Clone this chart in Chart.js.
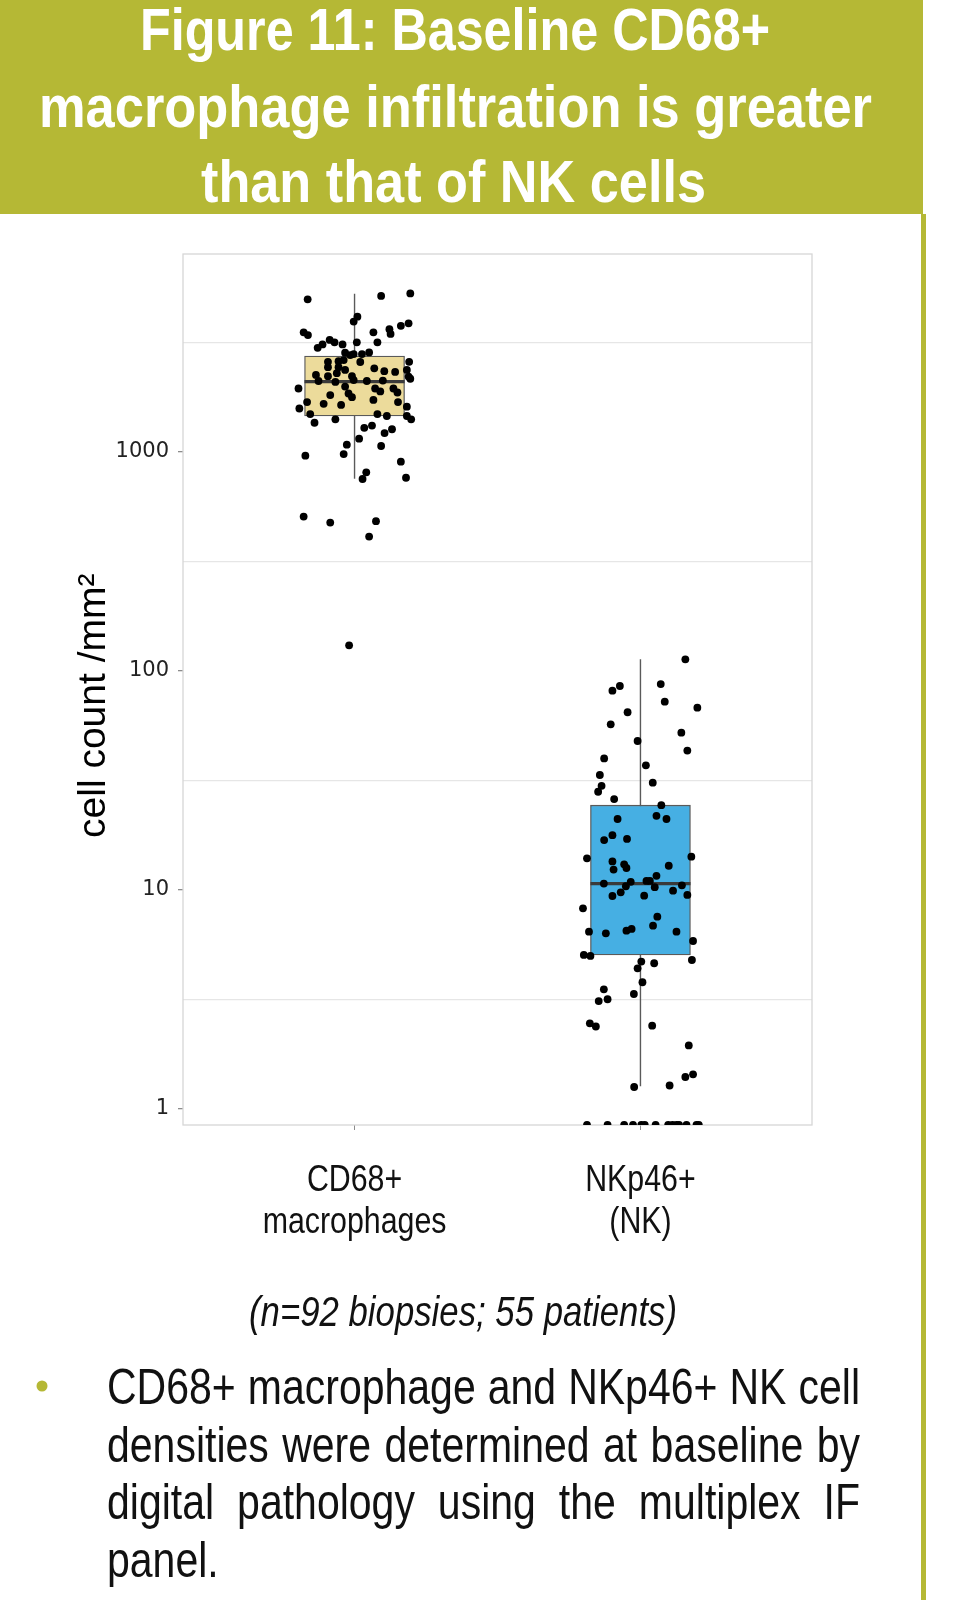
<!DOCTYPE html>
<html><head><meta charset="utf-8">
<script src="https://cdn.jsdelivr.net/npm/chart.js@4/dist/chart.umd.min.js"></script>
<style>
html,body{margin:0;padding:0;background:#fff;}
body{width:954px;height:1600px;position:relative;overflow:hidden;}
#banner{position:absolute;left:0;top:0;width:923px;height:214px;background:#B5B835;}
#rbar{position:absolute;left:921px;top:214px;width:5px;height:1386px;background:#B5B835;}
#c{position:absolute;left:0;top:214px;}
#txt{position:absolute;left:0;top:0;}
</style></head><body>
<div id="banner"></div>
<canvas id="c" width="954" height="1046"></canvas>
<div id="rbar"></div>
<svg id="txt" width="954" height="1600" xmlns="http://www.w3.org/2000/svg">
 <g font-family='"Liberation Sans", Arial, sans-serif'>
  <g fill="#ffffff" font-weight="bold" font-size="60" text-anchor="middle">
   <text x="455" y="50" textLength="630" lengthAdjust="spacingAndGlyphs">Figure 11: Baseline CD68+</text>
   <text x="455.5" y="127" textLength="833" lengthAdjust="spacingAndGlyphs">macrophage infiltration is greater</text>
   <text x="453.5" y="202" textLength="505" lengthAdjust="spacingAndGlyphs">than that of NK cells</text>
  </g>
  <text x="463" y="1326" font-size="42" font-style="italic" fill="#111" text-anchor="middle" textLength="428" lengthAdjust="spacingAndGlyphs">(n=92 biopsies; 55 patients)</text>
  <circle cx="42" cy="1386" r="5.5" fill="#B5B835"/>
  <g font-size="50" fill="#111">
   <text class="just" transform="translate(107 1404) scale(0.82 1)" data-w="753">CD68+ macrophage and NKp46+ NK cell</text>
   <text class="just" transform="translate(107 1461.5) scale(0.82 1)" data-w="753">densities were determined at baseline by</text>
   <text class="just" transform="translate(107 1519) scale(0.82 1)" data-w="753">digital pathology using the multiplex IF</text>
   <text transform="translate(107 1576.5) scale(0.82 1)">panel.</text>
  </g>
 </g>
</svg>
<script>
// ---- data ----
const categories = [['CD68+', 'macrophages'], ['NKp46+', '(NK)']];
const boxColors = ['#ECDB9B', '#46AFE3'];

const q1Values = [1460, 5.05];
const medianValues = [2095, 10.7];
const q3Values = [2740, 24.4];
const whiskerLow = [755, 1.27];
const whiskerHigh = [5280, 113];

const cd68Values = [4980,5160,5300,4150,3940,3520,3420,3520,3640,3460,3770,3870,3250,3170,3100,2990,3100,3170,3170,2840,
  2770,2800,2800,2850,2580,2600,2630,2580,2440,2440,2410,2340,2370,2220,2250,2290,2220,2210,2110,2090,
  2130,2110,2120,2160,1950,1990,1950,1950,1850,1780,1890,1870,1730,1690,1660,1640,1690,1580,1610,1490,
  1490,1460,1460,1410,1360,1410,1320,1290,1270,1220,1150,1080,1065,979,962,903,808,753,763,507,
  476,483,411,131,2576,2370,1820,2320];
const cd68Jitter = [-0.164,0.093,0.195,0.010,-0.003,-0.178,-0.163,0.066,0.122,0.126,0.162,0.189,-0.087,-0.070,-0.112,-0.129,-0.042,0.008,0.080,-0.033,
  -0.015,-0.003,0.026,0.051,-0.093,-0.056,-0.038,0.191,-0.093,-0.056,0.069,0.104,0.183,-0.093,-0.135,-0.062,-0.009,0.189,-0.126,-0.067,
  -0.003,0.043,0.099,0.195,-0.196,-0.033,0.072,0.136,-0.021,-0.009,0.090,0.150,0.066,-0.166,-0.108,-0.047,0.152,-0.193,0.183,-0.155,
  0.080,0.113,0.183,0.198,-0.140,-0.067,0.061,0.034,0.131,0.105,0.016,-0.027,0.093,-0.038,-0.172,0.162,0.041,0.028,0.180,-0.178,
  -0.085,0.075,0.051,-0.019,0.020,-0.033,-0.085,0.142];

const nkValues = [113,85.4,81.3,87.2,72.4,68.0,64.8,57.1,52.3,47.9,43.3,39.9,37.1,33.5,30.9,29.9,28.1,26.0,24.4,21.8,
  21.1,21.1,17.8,16.9,17.1,13.95,14.2,13.5,13.1,12.6,12.4,12.9,11.6,10.7,10.9,10.4,11.0,11.0,10.3,10.5,
  9.76,9.39,9.42,9.93,9.49,8.25,7.55,6.87,6.45,6.34,6.52,6.64,6.45,5.85,5.05,5.00,4.79,4.71,4.63,4.39,
  3.79,3.35,3.52,3.11,3.17,2.46,2.38,2.40,1.95,1.44,1.40,1.28,1.26,
  0,0,0,0,0,0,0,0,0,0,0,0,0,0];
const nkJitter = [0.157,-0.072,-0.098,0.071,0.085,0.199,-0.045,-0.104,0.143,-0.010,0.164,-0.127,0.019,-0.142,0.043,-0.136,-0.148,-0.092,0.073,0.056,
  0.091,-0.080,-0.098,-0.127,-0.047,-0.187,0.178,-0.098,-0.057,-0.049,-0.094,0.099,0.056,-0.128,-0.034,-0.051,0.021,0.033,0.050,0.145,
  -0.069,-0.098,0.013,0.114,0.164,-0.201,0.059,0.044,-0.180,-0.121,-0.049,-0.031,0.126,0.184,-0.198,-0.175,0.180,0.003,0.048,-0.010,
  0.007,-0.023,-0.128,-0.146,-0.115,-0.177,-0.156,0.041,0.169,0.184,0.157,0.102,-0.022,
  -0.187,-0.115,-0.057,-0.026,0.003,0.015,0.053,0.097,0.112,0.126,0.135,0.161,0.196,0.204];

const yTickValues = [1, 10, 100, 1000];
const yTickLabels = ['1', '10', '100', '1000'];
const yGridValues = [3.162, 31.62, 316.2, 3162];
const Y_MIN = 0.845, Y_MAX = 8020;
const X_MIN = 0.4, X_MAX = 2.6;
const BOX_HALF = 0.175;

// ---- justify bullet lines (glyphs condensed to 82%) ----
const SQUEEZE = 0.82;
document.querySelectorAll('text.just').forEach(t => {
  const target = parseFloat(t.getAttribute('data-w')) / SQUEEZE;
  const natural = t.getComputedTextLength();
  const spaces = (t.textContent.match(/ /g) || []).length;
  if (spaces) t.style.wordSpacing = ((target - natural) / spaces) + 'px';
});

const SANS = '"Liberation Sans", Arial, sans-serif';

function pts(values, jitter, center) {
  return values.map((v, i) => ({ x: center + jitter[i], y: v === 0 ? Y_MIN : v }));
}

const datasets = [];
categories.forEach((c, i) => {
  const cx = i + 1;
  datasets.push({ type: 'line', order: 4, data: [{x: cx, y: whiskerLow[i]}, {x: cx, y: whiskerHigh[i]}],
    borderColor: '#5a5a5a', borderWidth: 1.4, pointRadius: 0, fill: false });
  datasets.push({ type: 'line', order: 2, data: [{x: cx - BOX_HALF, y: medianValues[i]}, {x: cx + BOX_HALF, y: medianValues[i]}],
    borderColor: '#3a3a3a', borderWidth: 3.2, pointRadius: 0, fill: false });
});
datasets.push({ type: 'bar', order: 3,
  data: categories.map((c, i) => ({ x: i + 1, y: [q1Values[i], q3Values[i]] })),
  backgroundColor: boxColors, borderColor: '#5a5a5a', borderWidth: 1.3, borderSkipped: false, barThickness: 100 });
datasets.push({ type: 'scatter', order: 1, data: pts(cd68Values, cd68Jitter, 1),
  pointRadius: 3.9, pointBackgroundColor: '#000', pointBorderWidth: 0 });
datasets.push({ type: 'scatter', order: 1, data: pts(nkValues, nkJitter, 2),
  pointRadius: 3.9, pointBackgroundColor: '#000', pointBorderWidth: 0 });

const panelBorder = {
  id: 'panelBorder',
  beforeDatasetsDraw(chart) {
    const {ctx, chartArea: a} = chart;
    ctx.save();
    ctx.strokeStyle = '#d6d6d6';
    ctx.lineWidth = 1.3;
    ctx.strokeRect(a.left, a.top, a.right - a.left, a.bottom - a.top);
    ctx.restore();
  }
};

// category labels under the x axis, positioned by the x scale, condensed glyphs
const xLabels = {
  id: 'xLabels',
  afterDraw(chart) {
    const {ctx, chartArea: a, scales: {x}} = chart;
    ctx.save();
    ctx.fillStyle = '#111';
    ctx.font = '37px ' + SANS;
    ctx.textAlign = 'center';
    ctx.textBaseline = 'alphabetic';
    categories.forEach((lines, i) => {
      const px = x.getPixelForValue(i + 1);
      lines.forEach((line, j) => {
        ctx.save();
        ctx.translate(px, a.bottom + 66 + j * 42);
        ctx.scale(SQUEEZE, 1);
        ctx.fillText(line, 0, 0);
        ctx.restore();
      });
    });
    ctx.restore();
  }
};

new Chart(document.getElementById('c'), {
  type: 'scatter',
  data: { datasets },
  plugins: [panelBorder, xLabels],
  options: {
    responsive: false, devicePixelRatio: 1, animation: false, events: [],
    layout: { padding: { top: 40, right: 142, left: 0, bottom: 0 } },
    plugins: { legend: { display: false }, tooltip: { enabled: false } },
    scales: {
      x: {
        type: 'linear', min: X_MIN, max: X_MAX, offset: false,
        afterBuildTicks: s => { s.ticks = categories.map((c, i) => ({ value: i + 1 })); },
        afterFit: s => { s.height = 135; },
        border: { display: false },
        grid: { offset: false, drawOnChartArea: false, drawTicks: true, tickLength: 5, tickColor: '#8c8c8c', color: '#8c8c8c' },
        ticks: { display: false }
      },
      y: {
        type: 'logarithmic', min: Y_MIN, max: Y_MAX,
        afterBuildTicks: s => {
          s.ticks = yTickValues.concat(yGridValues).sort((a, b) => a - b).map(v => ({ value: v }));
        },
        afterFit: s => { s.width = 183; },
        border: { display: false },
        grid: {
          drawTicks: true, tickLength: 5, lineWidth: 1.3,
          color: ctx => (ctx.tick && yGridValues.includes(ctx.tick.value)) ? '#e6e6e6' : 'rgba(0,0,0,0)',
          tickColor: ctx => (ctx.tick && yTickValues.includes(ctx.tick.value)) ? '#8c8c8c' : 'rgba(0,0,0,0)'
        },
        ticks: { autoSkip: false, padding: 9,
          callback: v => { const k = yTickValues.indexOf(v); return k >= 0 ? yTickLabels[k] : ''; },
          font: { family: '"DejaVu Sans", sans-serif', size: 21 }, color: '#222' },
        title: { display: true, text: 'cell count /mm²   ', color: '#000',
          font: { family: SANS, size: 39, lineHeight: 1.2 }, padding: { top: 71, bottom: 0 } }
      }
    }
  }
});
</script>
</body></html>
